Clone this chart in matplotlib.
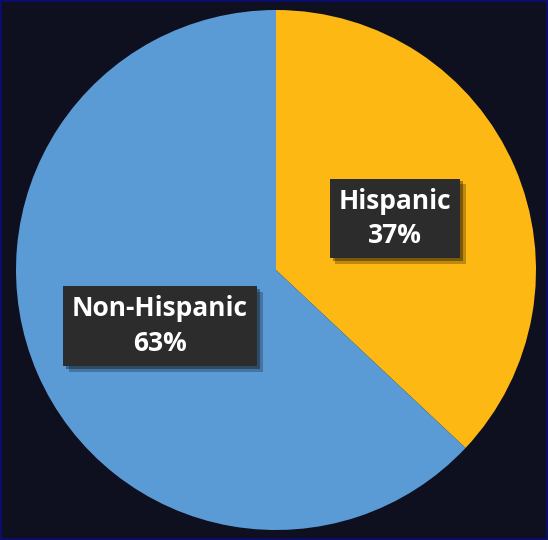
import matplotlib
matplotlib.use("Agg")
import matplotlib.pyplot as plt
import matplotlib.patheffects as pe
from matplotlib.patches import Rectangle

labels = ["Hispanic", "Non-Hispanic"]
shares = [37, 63]
colors = ["#FDB814", "#5B9BD5"]

W, H = 548, 540
cx, cy, r = 276, 270, 260  # pie centre and radius in pixels

fig = plt.figure(figsize=(W / 100, H / 100), dpi=100)
fig.patch.set_facecolor("#0E0F1F")
ax = fig.add_axes([0, 0, 1, 1])
ax.set_facecolor("#0E0F1F")

ax.pie(shares, colors=colors, startangle=90, counterclock=False,
       radius=1.0, wedgeprops=dict(linewidth=0))
ax.set_xlim(-cx / r, (W - cx) / r)
ax.set_ylim(-(H - cy) / r, cy / r)
ax.set_aspect("equal")
ax.axis("off")

label_pos = [(0.458, 0.198), (-0.446, -0.216)]
for name, val, (x, y) in zip(labels, shares, label_pos):
    t = ax.text(x, y, f"{name}\n{val}%", ha="center", va="center",
                color="white", fontsize=19, fontweight="bold",
                family=["Open Sans", "DejaVu Sans"], linespacing=1.37,
                bbox=dict(boxstyle="square,pad=0.34", facecolor="#2C2C2D",
                          edgecolor="none"))
    t.get_bbox_patch().set_path_effects(
        [pe.SimplePatchShadow(offset=(4, -4), shadow_rgbFace="black", alpha=0.25),
         pe.SimplePatchShadow(offset=(2, -2), shadow_rgbFace="black", alpha=0.35),
         pe.Normal()])

fig.patches.append(Rectangle((0, 0), 1, 1, transform=fig.transFigure,
                             fill=False, edgecolor="#0C0D66", linewidth=3))

fig.savefig("out.png", dpi=100, facecolor=fig.get_facecolor())
